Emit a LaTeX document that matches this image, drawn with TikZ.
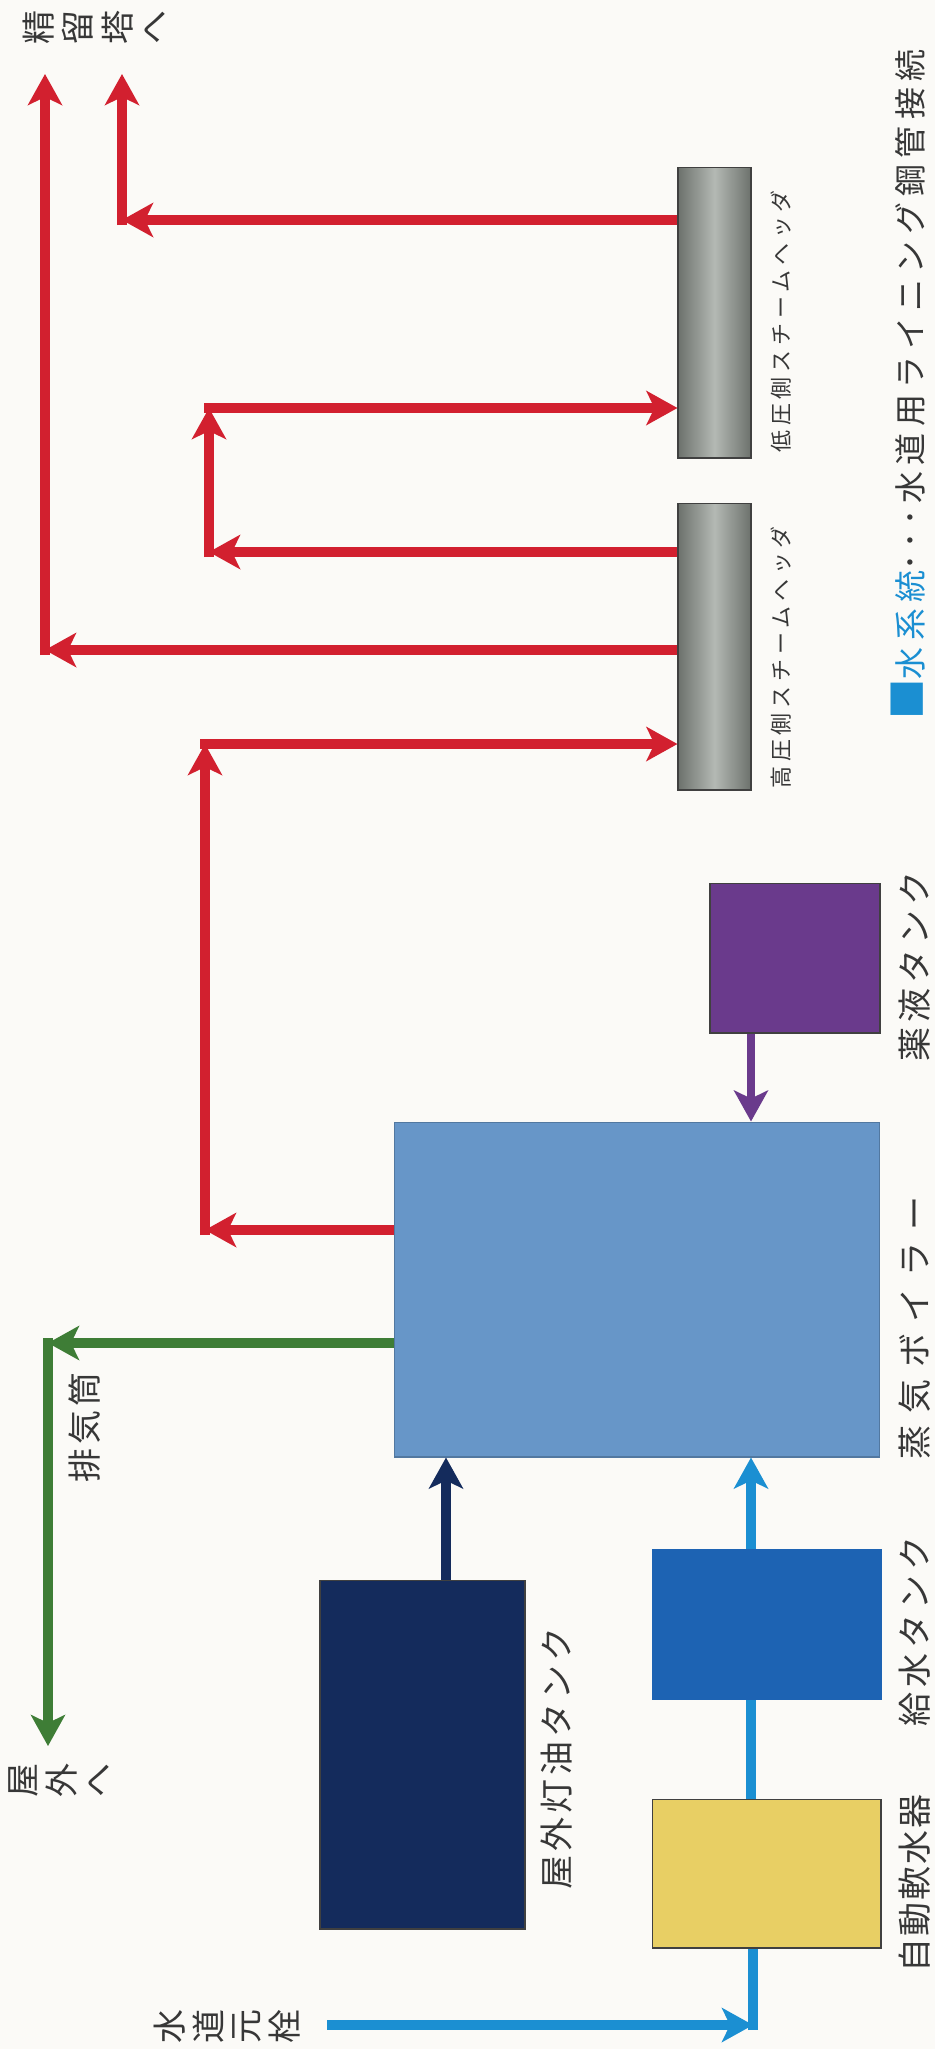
\documentclass[tikz,border=0pt]{standalone}
\usepackage{fontspec}
\usepackage{tikz}
\usetikzlibrary{arrows.meta}
\newfontfamily\jpfont{Noto Sans CJK JP}
\definecolor{paper}{RGB}{251,250,247}
\definecolor{ink}{RGB}{55,55,55}
\definecolor{steam}{RGB}{210,32,47}
\definecolor{exhaust}{RGB}{62,125,54}
\definecolor{water}{RGB}{27,143,210}
\definecolor{boilerblue}{RGB}{103,150,200}
\definecolor{feedblue}{RGB}{29,99,179}
\definecolor{oilnavy}{RGB}{20,43,92}
\definecolor{drugpurple}{RGB}{106,58,140}
\definecolor{softyellow}{RGB}{232,207,100}
\definecolor{hdrdark}{RGB}{108,113,108}
\definecolor{hdrlight}{RGB}{180,185,180}

\begin{document}
\begin{tikzpicture}[x=0.02cm,y=-0.02cm,
                    >={Stealth[length=0.62cm,width=0.68cm,inset=0.16cm]}]
  \tikzstyle{tank}=[draw=black!75,line width=0.6pt,inner sep=0pt]
  \tikzstyle{hdrbox}=[tank,minimum width=1.46cm,left color=hdrdark,
                      right color=hdrdark,middle color=hdrlight]
  \tikzstyle{pipe}=[line width=0.2cm]
  \tikzstyle{jplabel}=[rotate=90,anchor=west,inner sep=0pt,text=ink,
                       font=\jpfont\fontsize{19.35}{20.5}\selectfont]
  \tikzstyle{jpstack}=[rotate=90,inner sep=0pt,text=ink,
                       font=\jpfont\fontsize{19.35}{20.5}\selectfont]

  \path[use as bounding box,fill=paper] (0,0) rectangle (935,2049);

  \node[hdrbox,minimum height=5.82cm] (hdrL)   at (714.5,312.5) {};
  \node[hdrbox,minimum height=5.74cm] (hdrH)   at (714.5,646.5) {};
  \node[tank,fill=drugpurple,minimum width=3.4cm,minimum height=3cm]
        (drug)   at (795,958) {};
  \node[tank,draw=boilerblue!80!black,fill=boilerblue,minimum width=9.72cm,
        minimum height=6.7cm] (boiler) at (637,1289.5) {};
  \node[tank,fill=oilnavy,minimum width=4.1cm,minimum height=6.98cm]
        (oil)    at (422.5,1754.5) {};
  \node[tank,draw=feedblue,fill=feedblue,minimum width=4.58cm,minimum height=3cm]
        (feed)   at (766.5,1624) {};
  \node[tank,fill=softyellow,minimum width=4.58cm,minimum height=2.98cm]
        (soft)   at (766.5,1873.5) {};

  \node[jplabel,font=\jpfont\fontsize{12.5}{14}\selectfont\addfontfeature{LetterSpace=22}]
        (hdrLtxt) at (781,453) {低圧側スチームヘッダ};
  \node[jplabel,font=\jpfont\fontsize{12.5}{14}\selectfont\addfontfeature{LetterSpace=22}]
        (hdrHtxt) at (781,789) {高圧側スチームヘッダ};
  \node[jplabel,font=\jpfont\fontsize{19.35}{20.5}\selectfont\addfontfeature{LetterSpace=15}]
        (drugtxt) at (915,1062) {薬液タンク};
  \node[jplabel,font=\jpfont\fontsize{19.35}{20.5}\selectfont\addfontfeature{LetterSpace=35}]
        (boilertxt) at (915,1460) {蒸気ボイラー};
  \node[jplabel,font=\jpfont\fontsize{19.35}{20.5}\selectfont\addfontfeature{LetterSpace=15}]
        (feedtxt) at (915,1727) {給水タンク};
  \node[jplabel,font=\jpfont\fontsize{19.35}{20.5}\selectfont\addfontfeature{LetterSpace=6}]
        (softtxt) at (915,1973) {自動軟水器};
  \node[jplabel,font=\jpfont\fontsize{19.35}{20.5}\selectfont\addfontfeature{LetterSpace=12}]
        (oiltxt) at (557,1890) {屋外灯油タンク};
  \node[jplabel,font=\jpfont\fontsize{19.35}{20.5}\selectfont\addfontfeature{LetterSpace=12}]
        (stacktxt) at (85,1483) {排気筒};
  \node[jplabel,font=\jpfont\fontsize{18.2}{20}\selectfont\addfontfeature{LetterSpace=20}]
        (legend) at (908,720)
        {\textcolor{water}{{\fontsize{23}{23}\selectfont ■}水系統}･･･水道用ライニング鋼管接続};

  \node[jpstack] (towertxt) at (100,27)
        {\begin{tabular}{@{}c@{}}精\\留\\塔\\へ\end{tabular}};
  \node[jpstack] (outtxt)   at (65,1780)
        {\begin{tabular}{@{}c@{}}屋\\外\\へ\end{tabular}};
  \node[jpstack] (taptxt)   at (231,2026)
        {\begin{tabular}{@{}c@{}}水\\道\\元\\栓\end{tabular}};

  \coordinate (lowC)   at (122,220);
  \coordinate (lowT)   at (122,74);
  \coordinate (longC)  at (45,650);
  \coordinate (longT)  at (45,74);
  \coordinate (loopB)  at (209,552);
  \coordinate (loopT)  at (209,408);
  \coordinate (blrC)   at (205,1230);
  \coordinate (blrT)   at (205,744);
  \coordinate (exC)    at (48,1343);
  \coordinate (exT)    at (48,1746);
  \coordinate (tap)    at (327,2025);
  \coordinate (tapC)   at (753,2025);
  \coordinate (feedX)  at (751,0);
  \coordinate (oilX)   at (446,0);

  \draw[pipe,steam,->] (hdrL.west |- lowC) -- (lowC);
  \draw[pipe,steam,->,shorten <=-0.1cm] (lowC) -- (lowT);
  \draw[pipe,steam,->] (hdrH.west |- longC) -- (longC);
  \draw[pipe,steam,->,shorten <=-0.1cm] (longC) -- (longT);
  \draw[pipe,steam,->] (hdrH.west |- loopB) -- (loopB);
  \draw[pipe,steam,->,shorten <=-0.1cm] (loopB) -- (loopT);
  \draw[pipe,steam,->,shorten <=-0.1cm] (loopT) -- (hdrL.west |- loopT);
  \draw[pipe,steam,->] (boiler.west |- blrC) -- (blrC);
  \draw[pipe,steam,->,shorten <=-0.1cm] (blrC) -- (blrT);
  \draw[pipe,steam,->,shorten <=-0.1cm] (blrT) -- (hdrH.west |- blrT);

  \draw[pipe,exhaust,->] (boiler.west |- exC) -- (exC);
  \draw[pipe,exhaust,->,shorten <=-0.1cm] (exC) -- (exT);

  \draw[pipe,drugpurple,->,line width=0.16cm] (drug.south -| feedX) -- (boiler.north -| feedX);
  \draw[pipe,oilnavy,->] (oil.north -| oilX) -- (boiler.south -| oilX);

  \draw[pipe,water,->] (tap) -- (tapC);
  \draw[pipe,water,shorten <=-0.1cm] (tapC) -- (soft.south -| tapC);
  \draw[pipe,water] (soft.north -| feedX) -- (feed.south -| feedX);
  \draw[pipe,water,->] (feed.north -| feedX) -- (boiler.south -| feedX);
\end{tikzpicture}
\end{document}
